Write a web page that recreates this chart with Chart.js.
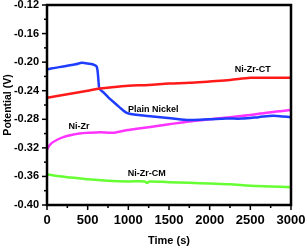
<!DOCTYPE html>
<html>
<head>
<meta charset="utf-8">
<script src="https://cdn.jsdelivr.net/npm/chart.js@4"></script>
<style>
  html, body { margin: 0; padding: 0; background: #fff; }
  #wrap { width: 307px; height: 249px; }
</style>
</head>
<body>
<div id="wrap"><canvas id="chartOcp"></canvas></div>
<script>
// open circuit potential vs time
const plainTime = [0, 50, 150, 250, 350, 430, 500, 560, 610, 630, 645, 700, 760, 850, 920, 980, 1050, 1150, 1300, 1550, 1750, 2000, 2200, 2400, 2600, 2780, 2900, 3000];
const plainPot  = [-0.210, -0.209, -0.207, -0.205, -0.203, -0.201, -0.202, -0.203, -0.206, -0.222, -0.237, -0.243, -0.250, -0.259, -0.266, -0.271, -0.273, -0.2745, -0.276, -0.279, -0.281, -0.280, -0.279, -0.279, -0.277, -0.275, -0.276, -0.277];

const ctTime = [0, 250, 500, 650, 800, 1000, 1250, 1500, 1750, 2000, 2250, 2500, 2750, 3000];
const ctPot  = [-0.250, -0.245, -0.240, -0.237, -0.235, -0.233, -0.232, -0.230, -0.229, -0.227, -0.225, -0.222, -0.222, -0.222];

const nizrTime = [0, 20, 60, 120, 200, 300, 400, 500, 650, 800, 900, 1000, 1250, 1500, 1750, 2000, 2250, 2500, 2750, 3000];
const nizrPot  = [-0.323, -0.318, -0.313, -0.309, -0.305, -0.302, -0.300, -0.299, -0.298, -0.299, -0.297, -0.295, -0.291, -0.287, -0.283, -0.280, -0.277, -0.274, -0.270, -0.267];

const cmTime = [0, 100, 250, 500, 750, 1000, 1200, 1230, 1260, 1500, 1750, 2000, 2250, 2500, 2750, 3000];
const cmPot  = [-0.357, -0.359, -0.361, -0.364, -0.366, -0.367, -0.367, -0.369, -0.367, -0.368, -0.369, -0.370, -0.371, -0.373, -0.374, -0.375];

const curveLabels = [
  { text: 'Ni-Zr-CT', t: 2530, v: -0.210 },
  { text: 'Plain Nickel', t: 1305, v: -0.267 },
  { text: 'Ni-Zr', t: 394, v: -0.290 },
  { text: 'Ni-Zr-CM', t: 1225, v: -0.356 }
];

const pts = (xs, ys) => xs.map((x, i) => ({ x: x, y: ys[i] }));
const line = (data, color) => ({
  data: data, borderColor: color, borderWidth: 2.5, pointRadius: 0,
  tension: 0.3, fill: false
});

const F = '"Liberation Sans", Arial, sans-serif';

const decor = {
  id: 'decor',
  afterDraw(chart) {
    const ctx = chart.ctx, a = chart.chartArea;
    const xs = chart.scales.x, ys = chart.scales.y;
    ctx.save();
    ctx.strokeStyle = '#000';
    ctx.lineWidth = 1.5;
    xs.ticks.forEach(tk => {
      const px = xs.getPixelForValue(tk.value);
      const len = tk.value % 500 === 0 ? 5 : 3;
      ctx.beginPath(); ctx.moveTo(px, a.bottom); ctx.lineTo(px, a.bottom + len); ctx.stroke();
    });
    ys.ticks.forEach(tk => {
      const py = ys.getPixelForValue(tk.value);
      const len = Math.round(tk.value * 100) % 4 === 0 ? 5 : 3;
      ctx.beginPath(); ctx.moveTo(a.left, py); ctx.lineTo(a.left - len, py); ctx.stroke();
    });
    ctx.lineWidth = 2.5;
    ctx.strokeRect(a.left, a.top, a.right - a.left, a.bottom - a.top);
    ctx.fillStyle = '#000';
    ctx.font = 'bold 9px ' + F;
    ctx.textAlign = 'center';
    ctx.textBaseline = 'middle';
    curveLabels.forEach(l => {
      ctx.fillText(l.text, xs.getPixelForValue(l.t), ys.getPixelForValue(l.v));
    });
    ctx.restore();
  }
};

new Chart(document.getElementById('chartOcp').getContext('2d'), {
  type: 'line',
  data: {
    datasets: [
      line(pts(ctTime, ctPot), '#ff1a1a'),
      line(pts(plainTime, plainPot), '#1f3dff'),
      line(pts(nizrTime, nizrPot), '#ff33ff'),
      line(pts(cmTime, cmPot), '#66ff33')
    ]
  },
  options: {
    responsive: true,
    maintainAspectRatio: false,
    animation: false,
    layout: { padding: { top: 5, right: 16, bottom: 0, left: 0 } },
    plugins: { legend: { display: false }, tooltip: { enabled: false } },
    scales: {
      x: {
        type: 'linear', min: 0, max: 3000,
        grid: { display: false, drawTicks: false },
        border: { display: false },
        ticks: {
          stepSize: 250, autoSkip: false, maxRotation: 0, padding: 8,
          color: '#000', font: { family: F, size: 13, weight: 'bold' },
          callback: v => (v % 500 === 0 ? String(v) : '')
        },
        title: { display: true, text: 'Time (s)', color: '#000', padding: { top: 0, bottom: 1 },
          font: { family: F, size: 11, weight: 'bold' } },
        afterFit: s => { s.height = 44; s.paddingLeft = 0; s.paddingRight = 0; }
      },
      y: {
        min: -0.40, max: -0.12,
        grid: { display: false, drawTicks: false },
        border: { display: false },
        ticks: {
          stepSize: 0.02, autoSkip: false, padding: 8,
          color: '#000', font: { family: F, size: 11, weight: 'bold' },
          callback: v => (Math.round(v * 100) % 4 === 0 ? v.toFixed(2) : '')
        },
        title: { display: true, text: 'Potential (V)', color: '#000', padding: { top: 2, bottom: 0 },
          font: { family: F, size: 10.5, weight: 'bold' } },
        afterFit: s => { s.width = 47; s.paddingTop = 0; s.paddingBottom = 0; }
      }
    }
  },
  plugins: [decor]
});
</script>
</body>
</html>
